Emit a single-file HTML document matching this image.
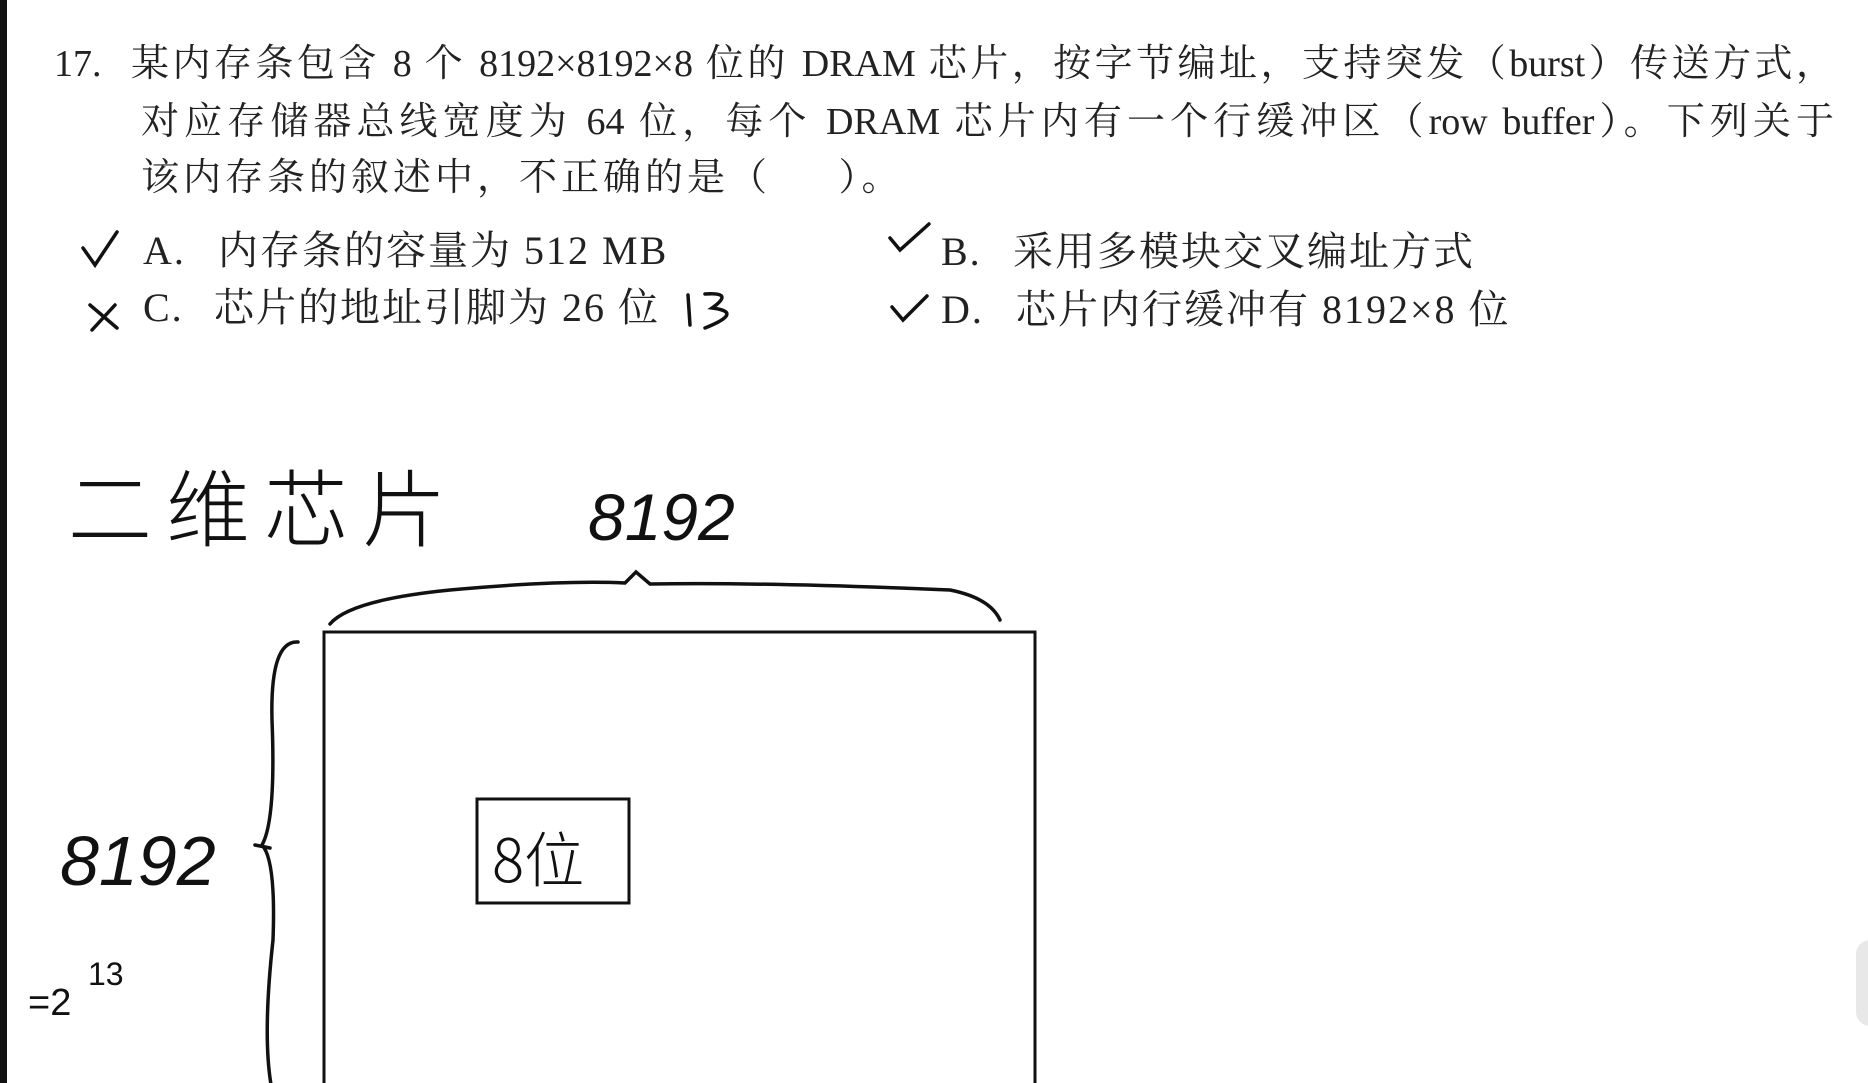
<!DOCTYPE html>
<html><head><meta charset="utf-8"><style>
body{margin:0;width:1868px;height:1083px;background:#fff;position:relative;overflow:hidden;font-family:"Liberation Serif","Noto Serif CJK SC",serif;color:#222}
.t{position:absolute;font-size:38px;white-space:nowrap;line-height:1}
.o{font-size:40px;letter-spacing:2px}
.j{text-align:justify;text-align-last:justify;white-space:normal}
</style></head><body>
<div style="position:absolute;left:0;top:0;width:7px;height:1083px;background:#111"></div>
<div class="t" style="left:54px;top:45px">17.</div>
<div class="t j" style="left:131px;top:45px;width:1703px">某内存条包含 8 个 8192×8192×8 位的 DRAM 芯片，按字节编址，支持突发（burst）传送方式，</div>
<div class="t j" style="left:141px;top:103px;width:1693px">对应存储器总线宽度为 64 位，每个 DRAM 芯片内有一个行缓冲区（row buffer）。下列关于</div>
<div class="t" style="left:141px;top:159px;letter-spacing:4px">该内存条的叙述中，不正确的是（&nbsp;&nbsp;&nbsp;&nbsp;&nbsp;）。</div>
<div class="t o" style="left:143px;top:231px">A.</div>
<div class="t o" style="left:218px;top:231px">内存条的容量为 512 MB</div>
<div class="t o" style="left:941px;top:232px">B.</div>
<div class="t o" style="left:1013px;top:232px">采用多模块交叉编址方式</div>
<div class="t o" style="left:143px;top:288px">C.</div>
<div class="t o" style="left:214px;top:288px">芯片的地址引脚为 26 位</div>
<div class="t o" style="left:941px;top:290px">D.</div>
<div class="t o" style="left:1016px;top:290px">芯片内行缓冲有 8192×8 位</div>
<svg width="1868" height="1083" style="position:absolute;left:0;top:0" fill="none" stroke="#111" stroke-width="3.5" stroke-linecap="round">
<path d="M83 248 L95 265 L117 232"/>
<path d="M90 305 L117 328 M115 305 L92 330"/>
<path d="M890 238 L900 250 L929 224"/>
<path d="M892 307 L903 320 L927 296"/>
<path d="M688 295 L690 325 M705 294 Q735 292 712 308 Q745 312 705 328"/>
<path d="M330 624 Q350 600 450 590 Q560 580 625 583 L636 572 L650 584 Q760 582 950 590 Q990 598 1000 620"/>
<rect x="324" y="632" width="711" height="480" stroke-width="3"/>
<rect x="477" y="799" width="152" height="104" stroke-width="3"/>
<path d="M298 642 Q270 640 272 720 Q276 820 262 845 Q276 860 273 940 Q262 1040 272 1090"/>
<path d="M255 845 L270 848"/>
<text x="68" y="540" font-size="84" letter-spacing="14" stroke="none" fill="#111" font-family="Noto Sans CJK SC,sans-serif" font-weight="300">二维芯片</text>
<text x="588" y="540" font-size="66" stroke="none" fill="#111" font-family="Liberation Sans,sans-serif" font-style="italic">8192</text>
<text x="60" y="885" font-size="70" stroke="none" fill="#111" font-family="Liberation Sans,sans-serif" font-style="italic">8192</text>
<text x="492" y="882" font-size="60" stroke="none" fill="#111" font-family="Noto Sans CJK SC,sans-serif" font-weight="300">8位</text>
<text x="28" y="1015" font-size="38" stroke="none" fill="#111" font-family="Liberation Sans,sans-serif">=2</text>
<text x="88" y="985" font-size="32" stroke="none" fill="#111" font-family="Liberation Sans,sans-serif">13</text>
</svg>
<div style="position:absolute;left:1856px;top:940px;width:30px;height:86px;border-radius:14px;background:#e8e8e8"></div>
</body></html>
